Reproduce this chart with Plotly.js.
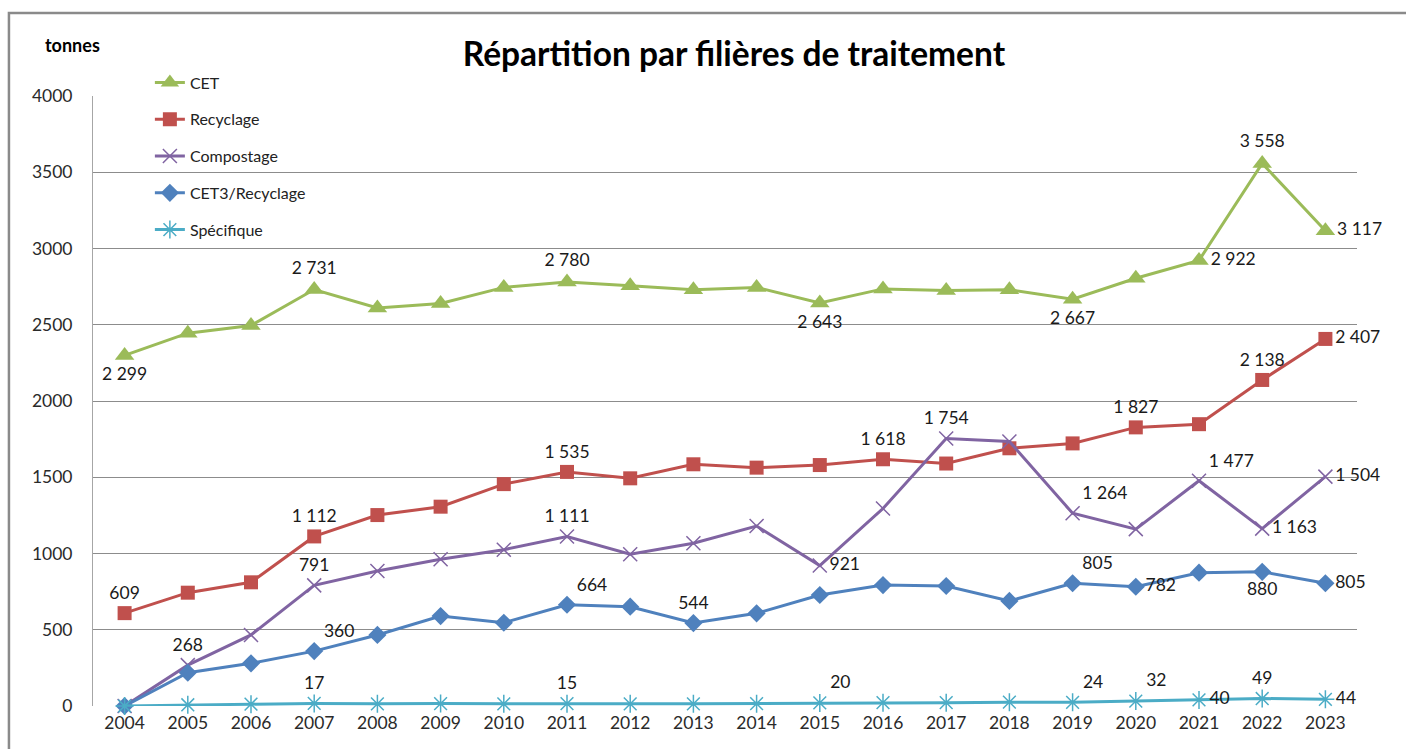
<!DOCTYPE html>
<html>
<head>
<meta charset="utf-8">
<script src="https://cdn.plot.ly/plotly-3.0.1.min.js"></script>
<style>
  html, body { margin: 0; background: #fff; overflow: hidden; }
  #chart { width: 1406px; height: 749px; }
</style>
</head>
<body>
<div id="chart"></div>
<script>
// Years on the category axis
const years = ['2004', '2005', '2006', '2007', '2008', '2009', '2010', '2011', '2012', '2013',
               '2014', '2015', '2016', '2017', '2018', '2019', '2020', '2021', '2022', '2023'];

// tonnes per year
const cet =        [2299, 2445, 2495, 2731, 2610, 2640, 2745, 2780, 2755, 2730,
                    2745, 2643, 2735, 2725, 2730, 2667, 2805, 2922, 3558, 3117];
const recyclage =  [609, 743, 811, 1112, 1252, 1307, 1455, 1535, 1493, 1585,
                    1563, 1580, 1618, 1590, 1690, 1722, 1827, 1848, 2138, 2407];
const compostage = [0, 268, 466, 791, 885, 962, 1025, 1111, 995, 1067,
                    1180, 921, 1295, 1754, 1735, 1264, 1160, 1477, 1163, 1504];
const cet3 =       [0, 218, 280, 360, 466, 590, 546, 664, 651, 544,
                    608, 728, 793, 787, 689, 805, 782, 874, 880, 805];
const specifique = [0, 8, 12, 17, 14, 16, 14, 15, 14, 14,
                    15, 20, 22, 22, 25, 24, 32, 40, 49, 44];

// which points carry a value label, and where ('' = no label)
const posCet =  ['bottom center', '', '', 'top center', '', '', '', 'top center', '', '',
                 '', 'bottom center', '', '', '', 'bottom center', '', 'middle right', 'top center', 'middle right'];
const posRec =  ['top center', '', '', 'top center', '', '', '', 'top center', '', '',
                 '', '', 'top center', '', '', '', 'top center', '', 'top center', 'middle right'];
const posComp = ['', 'top center', '', 'top center', '', '', '', 'top center', '', '',
                 '', 'middle right', '', 'top center', '', 'top right', '', 'top right', 'middle right', 'middle right'];
const posCet3 = ['', '', '', 'top right', '', '', '', 'top right', '', 'top center',
                 '', '', '', '', '', 'top right', 'middle right', '', 'bottom center', 'middle right'];
const posSpec = ['', '', '', 'top center', '', '', '', 'top center', '', '',
                 '', 'top right', '', '', '', 'top right', 'top right', 'middle right', 'top center', 'middle right'];

function fmt(v) {
    return String(v).replace(/\B(?=(\d{3})+(?!\d))/g, ' ');
}

function series(name, values, pos, color, symbol, size, extra) {
    return Object.assign({
        name: name,
        x: years,
        y: values,
        type: 'scatter',
        mode: 'lines+markers+text',
        text: values.map((v, i) => pos[i] ? fmt(v) : ''),
        textposition: pos.map(p => p || 'top center'),
        textfont: { family: 'Lato, sans-serif', size: 17.5, color: '#1a1a1a' },
        line: { color: color, width: 3 },
        marker: { color: color, symbol: symbol, size: size },
        legendgroup: name,
        cliponaxis: false,
        hoverinfo: 'x+y'
    }, extra || {});
}

const traces = [
    series('CET', cet, posCet, '#9BBB59', 'triangle-up', 17),
    series('Recyclage', recyclage, posRec, '#C0504D', 'square', 14),
    series('Compostage', compostage, posComp, '#8064A2', 'x-thin-open', 14,
           { marker: { color: '#8064A2', symbol: 'x-thin-open', size: 14, line: { color: '#8064A2', width: 1.5 } } }),
    series('CET3/Recyclage', cet3, posCet3, '#4F81BD', 'diamond', 14),
    series('Spécifique', specifique, posSpec, '#4BACC6', 'asterisk-open', 15,
           { marker: { color: '#4BACC6', symbol: 'asterisk-open', size: 15, line: { color: '#4BACC6', width: 1.5 } } })
];

const layout = {
    width: 1406,
    height: 749,
    margin: { l: 93, r: 49, t: 96, b: 43 },
    paper_bgcolor: '#fff',
    plot_bgcolor: '#fff',
    font: { family: 'Lato, sans-serif', size: 17.5, color: '#333' },
    title: {
        text: '<b>Répartition par filières de traitement</b>',
        font: { family: 'Lato, sans-serif', size: 33.5, color: '#000' },
        x: 0.522, xanchor: 'center',
        y: 0.927, yanchor: 'middle'
    },
    xaxis: {
        type: 'category',
        range: [-0.5, 19.5],
        showgrid: false,
        showline: false,
        zeroline: false,
        ticks: '',
        ticklabelstandoff: 4,
        tickfont: { size: 17.5, color: '#2a2a2a' }
    },
    yaxis: {
        range: [0, 4000],
        dtick: 500,
        tickformat: 'd',
        showgrid: true,
        gridcolor: '#8c8c8c',
        gridwidth: 1,
        showline: true,
        linecolor: '#a6a6a6',
        linewidth: 1,
        zeroline: false,
        ticks: '',
        ticklabelstandoff: 16,
        tickfont: { size: 17.5, color: '#2a2a2a' }
    },
    legend: {
        x: 0.045, xanchor: 'left',
        y: 1.05, yanchor: 'top',
        bgcolor: 'rgba(0,0,0,0)',
        tracegroupgap: 13,
        traceorder: 'grouped',
        font: { size: 16, color: '#222' }
    },
    // outer chart frame: only its top and left edges fall inside the picture
    shapes: [{
        type: 'path', xref: 'paper', yref: 'paper',
        path: 'M -0.0665,-0.2 L -0.0665,1.136 L 1.2,1.136',
        line: { color: '#8a8a8a', width: 2.5 }
    }],
    annotations: [{
        text: '<b>tonnes</b>',
        xref: 'paper', yref: 'paper',
        x: -0.0166, y: 1.083,
        xanchor: 'center', yanchor: 'middle',
        showarrow: false,
        font: { size: 18, color: '#000' }
    }]
};

Plotly.newPlot('chart', traces, layout, { displayModeBar: false });
</script>
</body>
</html>
